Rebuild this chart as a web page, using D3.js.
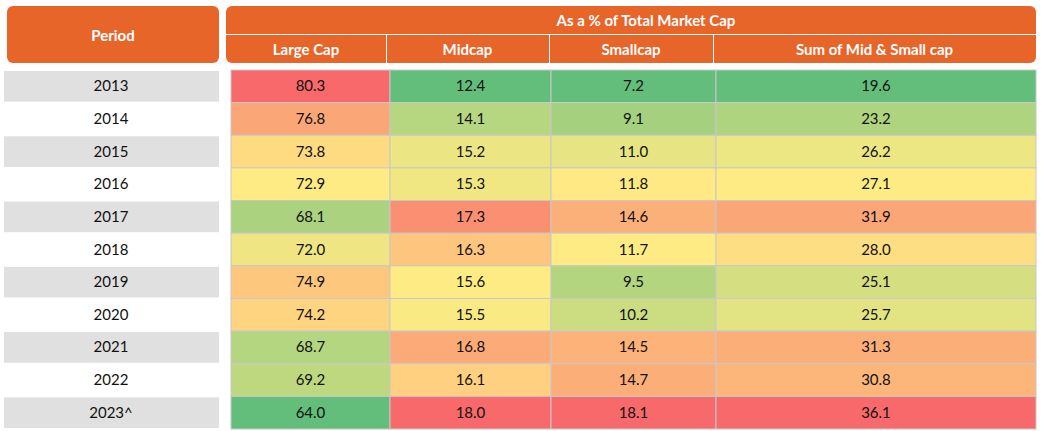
<!DOCTYPE html>
<html lang="en">
<head>
<meta charset="UTF-8">
<title>Market cap share</title>
<script src="https://d3js.org/d3.v7.min.js"></script>
<style>
  body { margin: 0; background: #fff; }
  svg { display: block; font-family: Lato, "Open Sans", sans-serif; }
</style>
</head>
<body>
<svg width="1042" height="431"></svg>
<script>
var periods = ["2013", "2014", "2015", "2016", "2017", "2018", "2019", "2020", "2021", "2022", "2023^"];
var columns = ["Large Cap", "Midcap", "Smallcap", "Sum of Mid & Small cap"];
var largeCap = [80.3, 76.8, 73.8, 72.9, 68.1, 72.0, 74.9, 74.2, 68.7, 69.2, 64.0];
var midCap = [12.4, 14.1, 15.2, 15.3, 17.3, 16.3, 15.6, 15.5, 16.8, 16.1, 18.0];
var smallCap = [7.2, 9.1, 11.0, 11.8, 14.6, 11.7, 9.5, 10.2, 14.5, 14.7, 18.1];
var midSmall = [19.6, 23.2, 26.2, 27.1, 31.9, 28.0, 25.1, 25.7, 31.3, 30.8, 36.1];
var series = [largeCap, midCap, smallCap, midSmall];

var svg = d3.select("svg");
var orange = "#E8652A";

// column edges of the data grid
var colEdges = [231, 390, 551, 716, 1036];
var y = d3.scaleBand().domain(periods).range([70, 429]).padding(0);

// header
svg.append("rect").attr("x", 7).attr("y", 6).attr("width", 212).attr("height", 57)
  .attr("rx", 6).attr("fill", orange);
svg.append("text").attr("x", 113).attr("y", 41).attr("text-anchor", "middle")
  .attr("fill", "#fff").attr("font-weight", "bold").attr("font-size", 15).text("Period");
svg.append("rect").attr("x", 226).attr("y", 6).attr("width", 810).attr("height", 57)
  .attr("rx", 6).attr("fill", orange);
svg.append("line").attr("x1", 226).attr("x2", 1036).attr("y1", 34.5).attr("y2", 34.5)
  .attr("stroke", "#fff").attr("stroke-width", 1);
svg.append("text").attr("x", 646).attr("y", 26).attr("text-anchor", "middle")
  .attr("fill", "#fff").attr("font-weight", "bold").attr("font-size", 15).text("As a % of Total Market Cap");

var hdrEdges = [226, 386, 549, 713, 1036];
columns.forEach(function (c, i) {
  if (i > 0) {
    svg.append("line").attr("x1", hdrEdges[i] + 0.5).attr("x2", hdrEdges[i] + 0.5)
      .attr("y1", 35).attr("y2", 63).attr("stroke", "#fff");
  }
  svg.append("text").attr("x", (hdrEdges[i] + hdrEdges[i + 1]) / 2).attr("y", 55)
    .attr("text-anchor", "middle").attr("fill", "#fff").attr("font-weight", "bold")
    .attr("font-size", 15).text(c);
});

// period column
periods.forEach(function (p, i) {
  if (i % 2 === 0) {
    svg.append("rect").attr("x", 4).attr("y", y(p) + 1).attr("width", 215)
      .attr("height", y.bandwidth() - 2).attr("fill", "#E0E0E0");
  }
  svg.append("text").attr("x", 111).attr("y", y(p) + y.bandwidth() / 2 + 5)
    .attr("text-anchor", "middle").attr("font-size", 15).attr("fill", "#111").text(p);
});

// heatmap cells, colour scale per column
series.forEach(function (vals, ci) {
  var sorted = vals.slice().sort(d3.ascending);
  var color = d3.scaleLinear()
    .domain([d3.min(vals), d3.quantile(sorted, 0.5), d3.max(vals)])
    .range(["#63BE7B", "#FFEB84", "#F8696B"]);
  vals.forEach(function (v, ri) {
    var p = periods[ri];
    svg.append("rect").attr("x", colEdges[ci]).attr("y", y(p))
      .attr("width", colEdges[ci + 1] - colEdges[ci]).attr("height", y.bandwidth())
      .attr("fill", color(v)).attr("stroke", "#C8C8C8").attr("stroke-width", 1);
    svg.append("text").attr("x", (colEdges[ci] + colEdges[ci + 1]) / 2)
      .attr("y", y(p) + y.bandwidth() / 2 + 5).attr("text-anchor", "middle")
      .attr("font-size", 15).attr("fill", "#111").text(v.toFixed(1));
  });
});
</script>
</body>
</html>
